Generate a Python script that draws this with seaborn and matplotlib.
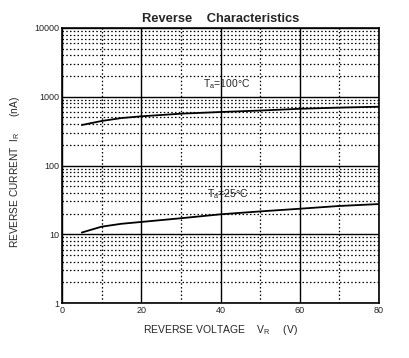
import matplotlib
matplotlib.use("Agg")
import matplotlib.pyplot as plt
import numpy as np
import pandas as pd
import seaborn as sns
from matplotlib.ticker import FixedLocator, LogLocator, NullFormatter

# reverse voltage (V) and reverse current (nA)
v_100 = [5, 10, 15, 20, 30, 40, 50, 60, 70, 80]
i_100 = [388, 444, 490, 519, 567, 600, 630, 668, 695, 717]
v_25 = [5, 10, 15, 20, 30, 40, 50, 60, 70, 80]
i_25 = [10.6, 12.9, 14.2, 15.1, 17.1, 19.5, 21.5, 23.5, 25.8, 27.5]

x_ticks = [0, 20, 40, 60, 80]
y_ticks = [1, 10, 100, 1000, 10000]

sns.set_theme(style="white")
plt.rcParams["font.family"] = ["Liberation Sans", "DejaVu Sans"]
plt.rcParams["mathtext.fontset"] = "custom"
plt.rcParams["mathtext.rm"] = "Liberation Sans"
plt.rcParams["mathtext.it"] = "Liberation Sans"

df = pd.concat([
    pd.DataFrame({"V": v_100, "I": i_100, "T": "100"}),
    pd.DataFrame({"V": v_25, "I": i_25, "T": "25"}),
])

fig = plt.figure(figsize=(4.09, 3.58), dpi=100)
ax = fig.add_axes([0.1516, 0.1536, 0.9267 - 0.1516, 0.9218 - 0.1536])

ax.set_yscale("log")
ax.set_xlim(0, 80)
ax.set_ylim(1, 10000)

ax.xaxis.set_major_locator(FixedLocator(x_ticks))
ax.xaxis.set_minor_locator(FixedLocator([10, 30, 50, 70]))
ax.yaxis.set_major_locator(FixedLocator(y_ticks))
ax.yaxis.set_minor_locator(LogLocator(base=10, subs=np.arange(2, 10)))
ax.yaxis.set_minor_formatter(NullFormatter())
ax.set_yticklabels([str(t) for t in y_ticks])
ax.set_xticklabels([str(t) for t in x_ticks])

ax.grid(which="major", color="black", linewidth=1.0, linestyle="-")
ax.grid(which="minor", color="black", linewidth=0.9, linestyle=(0, (1.2, 1.8)))
ax.tick_params(which="both", length=0, labelsize=6.5, pad=2)
for s in ax.spines.values():
    s.set_color("black")
    s.set_linewidth(1.2)

sns.lineplot(data=df, x="V", y="I", units="T", estimator=None, color="black",
             linewidth=1.3, ax=ax, legend=False)

ax.text(35.5, 1230, "T$_{a}$=100\u00b0C", fontsize=7.5, va="bottom", ha="left")
ax.text(36.5, 30, "T$_{a}$=25\u00b0C", fontsize=7.5, va="bottom", ha="left")

ax.set_title("Reverse    Characteristics", fontsize=9.3, fontweight="bold", pad=4)
ax.set_xlabel("REVERSE VOLTAGE    V$_{R}$     (V)", fontsize=7.5, labelpad=6)
ax.set_ylabel("REVERSE CURRENT  I$_{R}$      (nA)", fontsize=7.3, labelpad=5)
ax.yaxis.set_label_coords(-0.126, 0.476)

fig.savefig("out.png", dpi=100)
